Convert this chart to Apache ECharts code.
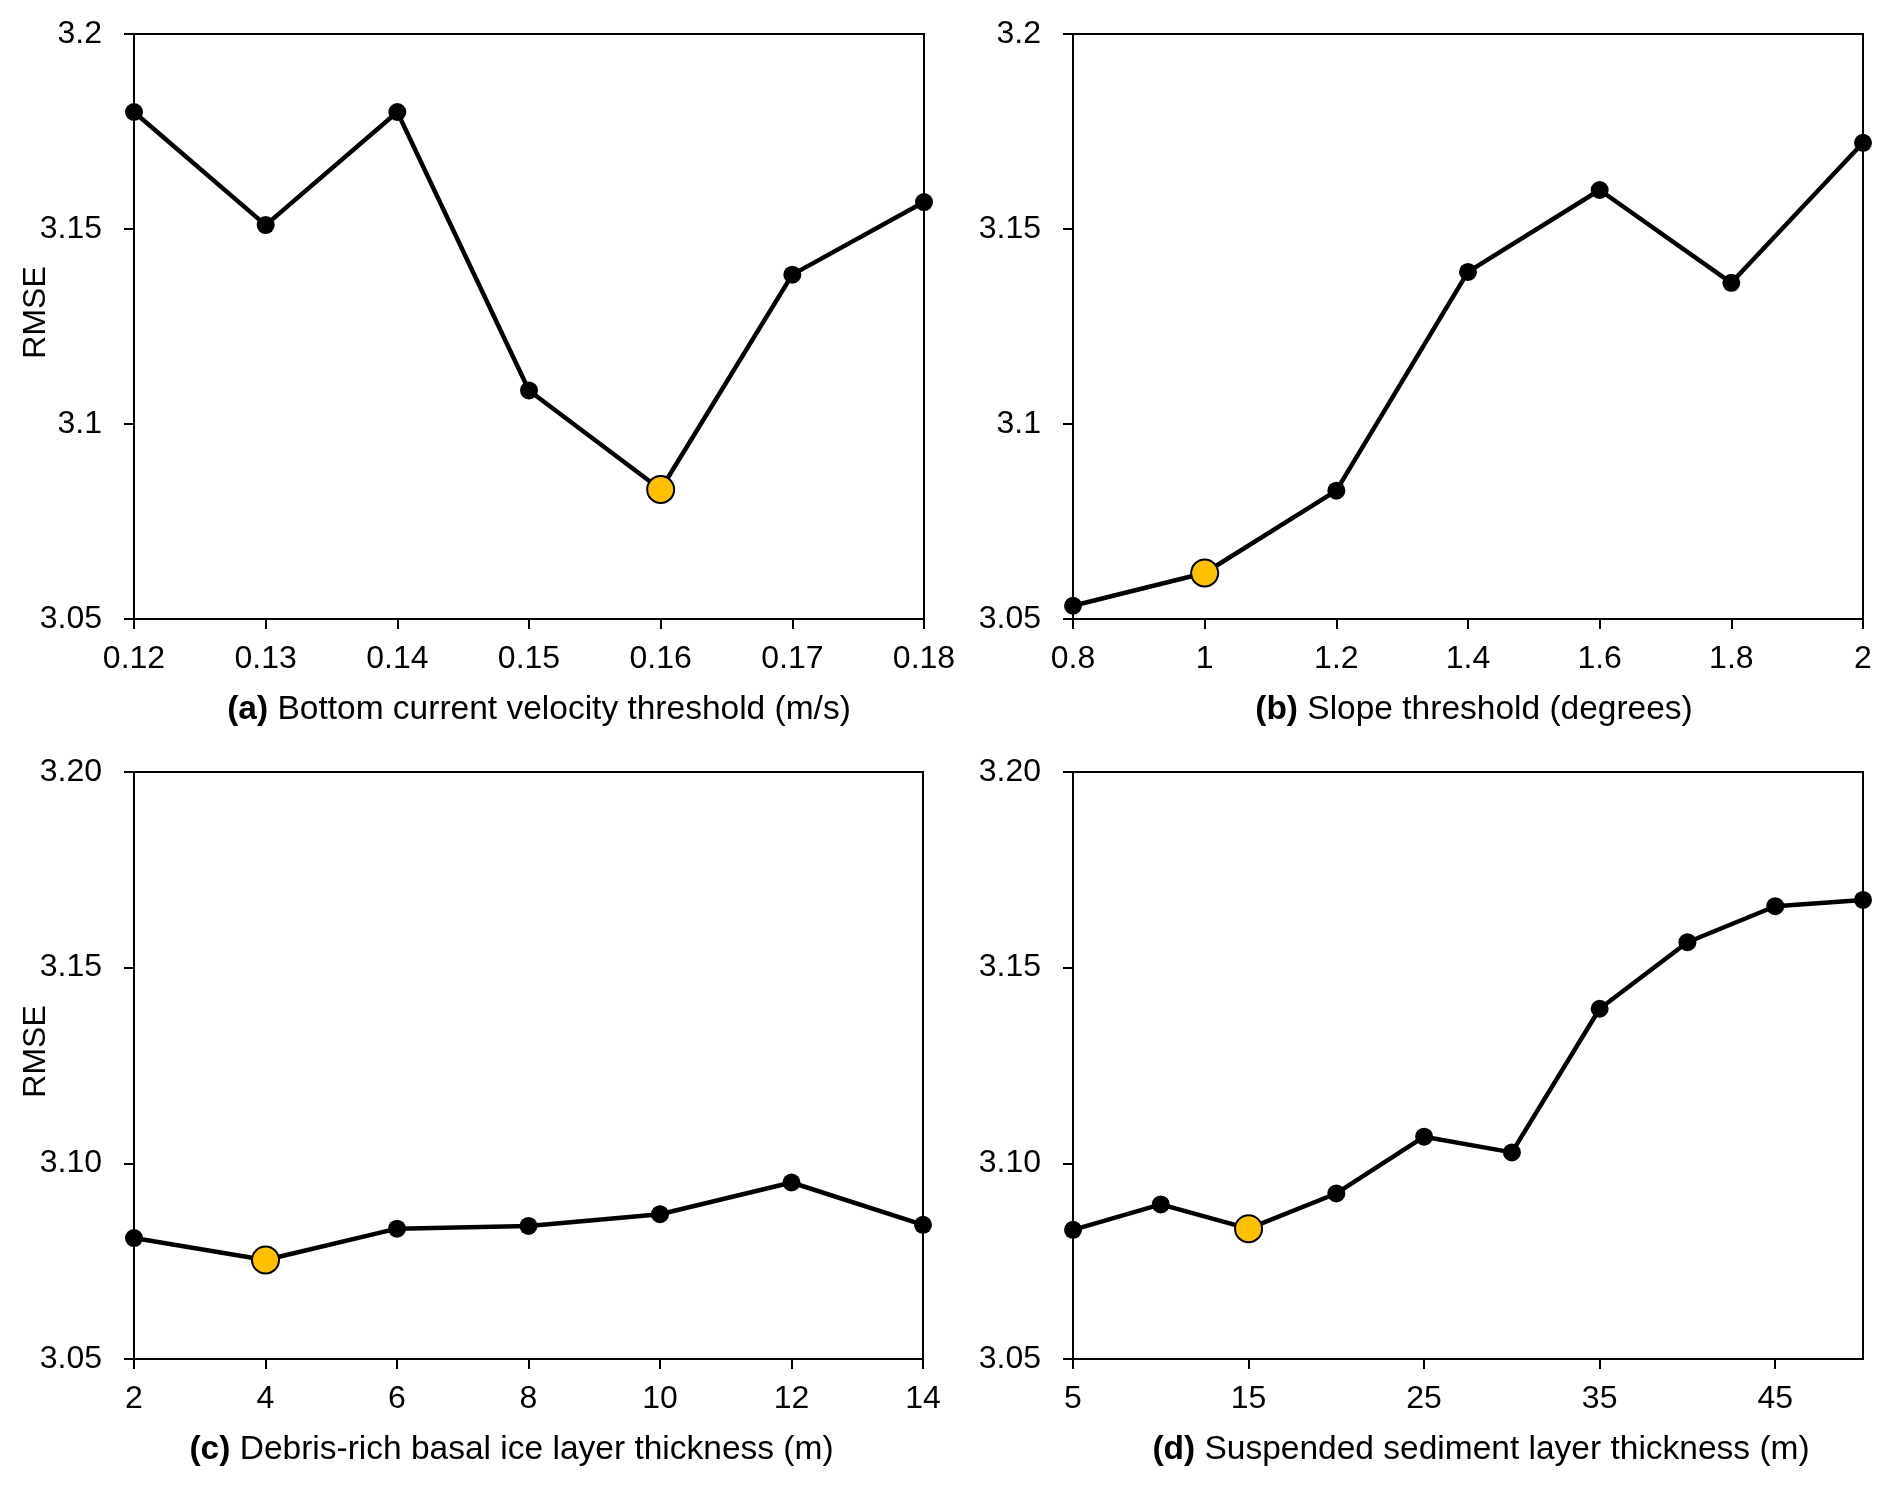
<!DOCTYPE html>
<html>
<head>
<meta charset="utf-8">
<script src="https://cdn.jsdelivr.net/npm/echarts@6/dist/echarts.min.js"></script>
<style>
  html, body { margin: 0; padding: 0; background: #fff; }
  #chart { width: 1892px; height: 1489px; }
</style>
</head>
<body>
<div id="chart"></div>
<script>
// ---- Data ----
var xA = [0.12, 0.13, 0.14, 0.15, 0.16, 0.17, 0.18];
var rmseA = [3.180, 3.151, 3.180, 3.1086, 3.0832, 3.1383, 3.1569];
var bestA = 4;

var xB = [0.8, 1.0, 1.2, 1.4, 1.6, 1.8, 2.0];
var rmseB = [3.0534, 3.0618, 3.0829, 3.139, 3.160, 3.1362, 3.1721];
var bestB = 1;

var xC = [2, 4, 6, 8, 10, 12, 14];
var rmseC = [3.0809, 3.0753, 3.0833, 3.0840, 3.0870, 3.0951, 3.0843];
var bestC = 1;

var xD = [5, 10, 15, 20, 25, 30, 35, 40, 45, 50];
var rmseD = [3.0830, 3.0895, 3.0833, 3.0923, 3.1068, 3.1028, 3.1395, 3.1565, 3.1657, 3.1673];
var bestD = 2;

var xTicksD = [5, 15, 25, 35, 45];

var titleA = ['(a)', 'Bottom current velocity threshold (m/s)'];
var titleB = ['(b)', 'Slope threshold (degrees)'];
var titleC = ['(c)', 'Debris-rich basal ice layer thickness (m)'];
var titleD = ['(d)', 'Suspended sediment layer thickness (m)'];

// ---- Styling ----
var FONT = 'Liberation Sans, Arial, Helvetica, sans-serif';
var AXIS_COLOR = '#000';
var GOLD = '#FFC000';

function buildData(xs, ys, best) {
  return xs.map(function (x, i) {
    if (i === best) {
      return {
        value: [x, ys[i]],
        symbolSize: 27,
        itemStyle: { color: GOLD, borderColor: '#000', borderWidth: 2 }
      };
    }
    return [x, ys[i]];
  });
}

function xAxisCfg(idx, min, max, interval, title, shift, customTicks) {
  var pad = shift >= 0 ? [0, 0, 0, 2 * shift] : [0, -2 * shift, 0, 0];
  var cfg = {
    type: 'value',
    gridIndex: idx,
    min: min,
    max: max,
    interval: interval,
    splitLine: { show: false },
    axisLine: { show: true, onZero: false, lineStyle: { color: AXIS_COLOR, width: 2 } },
    axisTick: { show: true, inside: false, length: 10, lineStyle: { color: AXIS_COLOR, width: 2 } },
    axisLabel: { color: '#000', fontSize: 32, fontFamily: FONT, margin: 24 },
    name: '{b|' + title[0] + '} ' + title[1],
    nameLocation: 'middle',
    nameGap: 74,
    nameMoveOverlap: false,
    nameTextStyle: {
      color: '#000', fontSize: 33.5, fontFamily: FONT, padding: pad,
      rich: { b: { fontWeight: 'bold', fontSize: 33.5, fontFamily: FONT, color: '#000' } }
    }
  };
  if (customTicks) {
    cfg.axisLabel.customValues = customTicks;
    cfg.axisTick.customValues = customTicks;
  }
  return cfg;
}

function yAxisCfg(idx, twoDecimals, showName) {
  return {
    type: 'value',
    gridIndex: idx,
    min: 3.05,
    max: 3.2,
    interval: 0.05,
    splitLine: { show: false },
    axisLine: { show: true, lineStyle: { color: AXIS_COLOR, width: 2 } },
    axisTick: { show: true, inside: false, length: 10, lineStyle: { color: AXIS_COLOR, width: 2 } },
    axisLabel: {
      color: '#000', fontSize: 32, fontFamily: FONT, margin: 32,
      formatter: function (v) {
        return twoDecimals ? v.toFixed(2) : String(parseFloat(v.toFixed(2)));
      }
    },
    name: showName ? 'RMSE' : '',
    nameLocation: 'middle',
    nameRotate: 90,
    nameGap: 82,
    nameMoveOverlap: false,
    nameTextStyle: { color: '#000', fontSize: 32, fontFamily: FONT, padding: [0, 0, 0, 28] }
  };
}

function seriesCfg(idx, xs, ys, best) {
  return {
    type: 'line',
    xAxisIndex: idx,
    yAxisIndex: idx,
    data: buildData(xs, ys, best),
    symbol: 'circle',
    symbolSize: 18,
    showSymbol: true,
    lineStyle: { color: '#000', width: 4.5 },
    itemStyle: { color: '#000' },
    animation: false,
    z: 3
  };
}

var gridBase = { show: true, borderColor: '#000', borderWidth: 2, backgroundColor: 'transparent', outerBoundsMode: 'none', containLabel: false };

var option = {
  backgroundColor: '#fff',
  animation: false,
  textStyle: { fontFamily: FONT },
  grid: [
    Object.assign({ left: 134, top: 34, width: 790, height: 585 }, gridBase),
    Object.assign({ left: 1073, top: 34, width: 790, height: 585 }, gridBase),
    Object.assign({ left: 134, top: 772, width: 789, height: 587 }, gridBase),
    Object.assign({ left: 1073, top: 772, width: 790, height: 587 }, gridBase)
  ],
  xAxis: [
    xAxisCfg(0, 0.12, 0.18, 0.01, titleA, 10),
    xAxisCfg(1, 0.8, 2, 0.2, titleB, 6),
    xAxisCfg(2, 2, 14, 2, titleC, -17),
    xAxisCfg(3, 5, 50, 5, titleD, 13, xTicksD)
  ],
  yAxis: [
    yAxisCfg(0, false, true),
    yAxisCfg(1, false, false),
    yAxisCfg(2, true, true),
    yAxisCfg(3, true, false)
  ],
  series: [
    seriesCfg(0, xA, rmseA, bestA),
    seriesCfg(1, xB, rmseB, bestB),
    seriesCfg(2, xC, rmseC, bestC),
    seriesCfg(3, xD, rmseD, bestD)
  ]
};

var chart = echarts.init(document.getElementById('chart'), null, { renderer: 'canvas' });
chart.setOption(option);
</script>
</body>
</html>
